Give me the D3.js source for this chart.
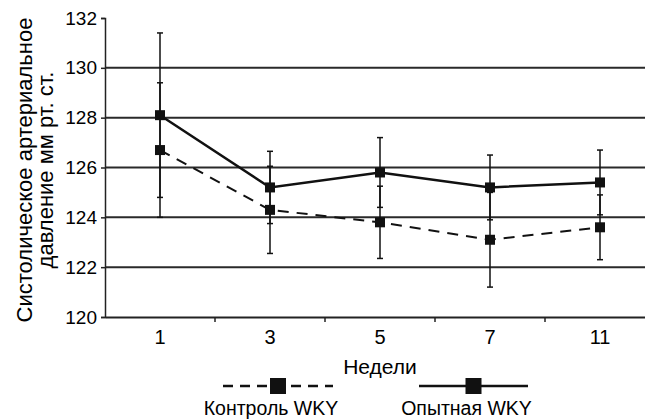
<!DOCTYPE html>
<html lang="ru">
<head>
<meta charset="utf-8">
<title>Систолическое давление WKY</title>
<script src="https://cdn.jsdelivr.net/npm/d3@7"></script>
<style>
  body { margin: 0; background: #fff; }
  text { font-family: "Liberation Sans", Arial, Helvetica, sans-serif; fill: #000; }
</style>
</head>
<body>
<script>
// data
const weeks = ["1", "3", "5", "7", "11"];
const yTicks = [120, 122, 124, 126, 128, 130, 132];
const gridValues = [122, 124, 126, 128, 130];

const controlMean = [126.7, 124.3, 123.8, 123.1, 123.6];
const controlErr  = [2.7, 1.75, 1.45, 1.9, 1.3];
const expMean = [128.1, 125.2, 125.8, 125.2, 125.4];
const expErr  = [3.3, 1.45, 1.4, 1.3, 1.3];

const seriesNames = ["Контроль WKY", "Опытная WKY"];

let w = 645, h = 419;
let mLeft = 105, mTop = 18, mBottom = 317;

let svg = d3.select("body").append("svg")
  .attr("width", w)
  .attr("height", h);

let x = d3.scaleBand().domain(weeks).range([mLeft, mLeft + 110 * weeks.length]).padding(0);
let y = d3.scaleLinear().domain([120, 132]).range([mBottom, mTop]);
let cx = d => x(d) + x.bandwidth() / 2;

// horizontal gridlines
svg.append("g").selectAll("line")
  .data(gridValues)
  .join("line")
  .attr("x1", mLeft).attr("x2", w)
  .attr("y1", d => y(d)).attr("y2", d => y(d))
  .attr("stroke", "#2a2a2a")
  .attr("stroke-width", 2);

// y axis
let yAxis = svg.append("g")
  .attr("transform", `translate(${mLeft},0)`)
  .call(d3.axisLeft(y).tickValues(yTicks).tickSize(4).tickPadding(4).tickFormat(d3.format("d")));
yAxis.select(".domain").attr("stroke", "#222").attr("stroke-width", 1.5);
yAxis.selectAll(".tick line").attr("stroke", "#222").attr("stroke-width", 1.5);
yAxis.selectAll(".tick text").style("font-size", "19px").attr("fill", "#000");

// x axis
let xAxis = svg.append("g")
  .attr("transform", `translate(0,${mBottom})`)
  .call(d3.axisBottom(x).tickSize(0).tickPadding(13));
xAxis.select(".domain").attr("stroke", "#222").attr("stroke-width", 2);
xAxis.selectAll(".tick text").style("font-size", "20px").attr("fill", "#000");
// category separator ticks
svg.append("g").selectAll("line")
  .data(weeks)
  .join("line")
  .attr("x1", d => x(d) + x.bandwidth()).attr("x2", d => x(d) + x.bandwidth())
  .attr("y1", mBottom).attr("y2", mBottom + 5)
  .attr("stroke", "#222").attr("stroke-width", 1.5);

// axis titles
svg.append("text")
  .attr("x", mLeft + 275).attr("y", 374)
  .attr("text-anchor", "middle")
  .style("font-size", "21px")
  .text("Недели");

let yTitle = svg.append("text")
  .attr("transform", "translate(32,170) rotate(-90)")
  .attr("text-anchor", "middle")
  .style("font-size", "22px");
yTitle.append("tspan").attr("x", 0).attr("dy", 0).text("Систолическое артериальное");
yTitle.append("tspan").attr("x", 0).attr("dy", 21).text("давление мм рт. ст.");

// error bars
function errorBars(means, errs) {
  let g = svg.append("g").attr("stroke", "#111").attr("stroke-width", 1.5);
  weeks.forEach((wk, i) => {
    let hi = y(means[i] + errs[i]), lo = y(means[i] - errs[i]);
    g.append("line").attr("x1", cx(wk)).attr("x2", cx(wk)).attr("y1", hi).attr("y2", lo);
    g.append("line").attr("x1", cx(wk) - 3).attr("x2", cx(wk) + 3).attr("y1", hi).attr("y2", hi);
    g.append("line").attr("x1", cx(wk) - 3).attr("x2", cx(wk) + 3).attr("y1", lo).attr("y2", lo);
  });
}
errorBars(expMean, expErr);
errorBars(controlMean, controlErr);

let line = d3.line()
  .x((d, i) => cx(weeks[i]))
  .y(d => y(d));

function series(means, dash, width) {
  svg.append("path")
    .datum(means)
    .attr("fill", "none")
    .attr("stroke", "#111")
    .attr("stroke-width", width)
    .attr("stroke-dasharray", dash)
    .attr("d", line);
  svg.append("g").selectAll("rect")
    .data(means)
    .join("rect")
    .attr("x", (d, i) => cx(weeks[i]) - 5)
    .attr("y", d => y(d) - 5)
    .attr("width", 10).attr("height", 10)
    .attr("fill", "#111");
}
series(controlMean, "11,8", 2);
series(expMean, null, 2.5);

// legend
let legendItems = [
  { name: seriesNames[0], x0: 223, x1: 333, dash: "10,7" },
  { name: seriesNames[1], x0: 419, x1: 528, dash: null }
];
let lg = svg.append("g");
legendItems.forEach(it => {
  let mid = (it.x0 + it.x1) / 2;
  lg.append("line")
    .attr("x1", it.x0).attr("x2", it.x1)
    .attr("y1", 386).attr("y2", 386)
    .attr("stroke", "#111").attr("stroke-width", 2.5)
    .attr("stroke-dasharray", it.dash);
  lg.append("rect")
    .attr("x", mid - 8).attr("y", 378)
    .attr("width", 16).attr("height", 16)
    .attr("fill", "#111");
  lg.append("text")
    .attr("x", mid - 7).attr("y", 415)
    .attr("text-anchor", "middle")
    .style("font-size", "19.5px")
    .text(it.name);
});
</script>
</body>
</html>
